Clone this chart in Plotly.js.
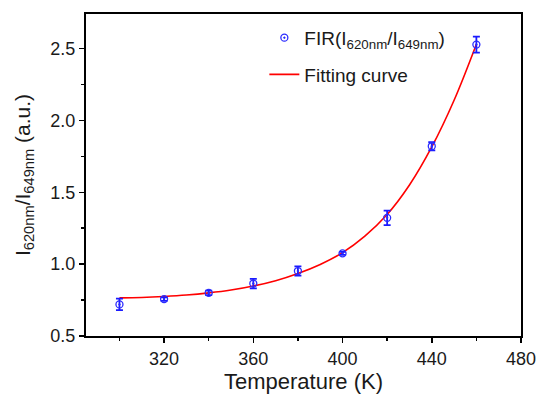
<!DOCTYPE html>
<html>
<head>
<meta charset="utf-8">
<script src="https://cdn.plot.ly/plotly-3.0.1.min.js"></script>
<style>html,body{margin:0;padding:0;background:#fff;}#chart{width:541px;height:395px;}</style>
</head>
<body>
<div id="chart"></div>
<script>
// Measured FIR data
const temperature = [300, 320, 340, 360, 380, 400, 420, 440, 460];
const firValues   = [0.72, 0.757, 0.80, 0.865, 0.952, 1.075, 1.322, 1.82, 2.527];
const firErrors   = [0.04, 0.012, 0.015, 0.033, 0.032, 0.01, 0.05, 0.028, 0.055];

// Fitting curve
const fitT = [300, 310, 320, 330, 340, 350, 360, 370, 380, 390, 400, 410, 420, 430, 440, 450, 460];
const fitY = [0.765, 0.768, 0.775, 0.785, 0.80, 0.82, 0.848, 0.885, 0.935, 0.998, 1.08, 1.195, 1.345, 1.55, 1.815, 2.14, 2.53];

const xTicks = [320, 360, 400, 440, 480];
const yTicks = [0.5, 1.0, 1.5, 2.0, 2.5];

const font = 'Liberation Sans, Arial, sans-serif';

const traces = [
  {
    x: fitT, y: fitY, type: 'scatter', mode: 'lines',
    name: 'Fitting curve', legendgroup: 'b', legendrank: 2,
    line: {color: '#ff0000', width: 1.6, shape: 'spline'}
  },
  {
    x: temperature, y: firValues, type: 'scatter', mode: 'markers',
    name: 'FIR(I<sub>620nm</sub>/I<sub>649nm</sub>)', legendgroup: 'a', legendrank: 1,
    marker: {symbol: 'circle-open-dot', size: 7, color: '#2b2bff', line: {width: 1.3}},
    error_y: {type: 'data', array: firErrors, visible: true, color: '#1a1aff', thickness: 1.8, width: 3.5}
  }
];

const layout = {
  width: 541, height: 395,
  margin: {l: 86, r: 20, t: 14, b: 59},
  paper_bgcolor: '#fff', plot_bgcolor: '#fff',
  font: {family: font, color: '#1a1a1a', size: 18},
  showlegend: true,
  legend: {
    x: 0.41, y: 0.985, xanchor: 'left', yanchor: 'top',
    bgcolor: 'rgba(0,0,0,0)', borderwidth: 0,
    font: {family: font, size: 19, color: '#1a1a1a'},
    itemwidth: 30, tracegroupgap: 9, traceorder: 'grouped'
  },
  xaxis: {
    range: [285, 480], tickvals: xTicks, ticktext: xTicks.map(String),
    ticks: 'outside', ticklen: 5, tickwidth: 1.5, tickcolor: '#000',
    minor: {tickvals: [300, 340, 380, 420, 460], ticks: 'outside', ticklen: 3, tickwidth: 1.5, tickcolor: '#000'},
    showline: true, linewidth: 2, linecolor: '#000', mirror: true,
    showgrid: false, zeroline: false,
    tickfont: {family: font, size: 18, color: '#1a1a1a'},
    title: {text: 'Temperature (K)', font: {family: font, size: 22, color: '#1a1a1a'}, standoff: 4}
  },
  yaxis: {
    range: [0.5, 2.74], tickvals: yTicks, ticktext: yTicks.map(v => v.toFixed(1)),
    ticks: 'outside', ticklen: 5, tickwidth: 1.5, tickcolor: '#000',
    minor: {tickvals: [0.75, 1.25, 1.75, 2.25], ticks: 'outside', ticklen: 3, tickwidth: 1.5, tickcolor: '#000'},
    showline: true, linewidth: 2, linecolor: '#000', mirror: true,
    showgrid: false, zeroline: false,
    tickfont: {family: font, size: 18, color: '#1a1a1a'},
    title: {text: 'I<sub>620nm</sub>/I<sub>649nm</sub> (a.u.)', font: {family: font, size: 21, color: '#1a1a1a'}, standoff: 14}
  }
};

Plotly.newPlot('chart', traces, layout, {displayModeBar: false, staticPlot: true});
</script>
</body>
</html>
